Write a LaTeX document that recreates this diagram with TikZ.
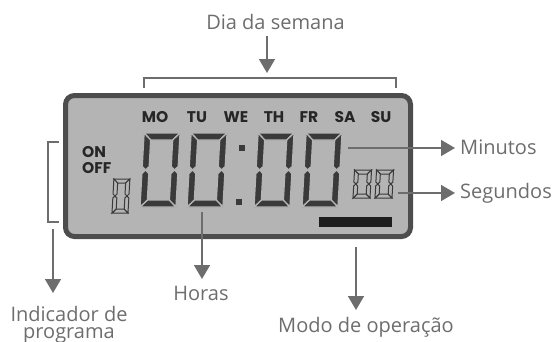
\documentclass[tikz,border=0pt]{standalone}
\usepackage{fontspec}
\usepackage{tikz}
\usetikzlibrary{arrows.meta}
\newfontfamily\rotulofont{Open Sans}
\newfontfamily\visorfont{Poppins}
\definecolor{visor}{HTML}{B4B4B4}
\definecolor{moldura}{HTML}{4D4D4D}
\definecolor{segmento}{HTML}{3A3A3A}
\definecolor{rotulo}{HTML}{6D6D6D}
\definecolor{barra}{HTML}{1E1E1E}
\definecolor{letra}{HTML}{262626}
% um zero de sete segmentos: origem (canto inferior esquerdo), largura, altura, espessura, estilo
\newcommand{\lcdzero}[5]{%
  \begin{scope}[shift={#1},x=1pt,y=1pt,xslant=0.055]
    \path[#5] (0,#3) -- (#2,#3) -- ({#2-#4},{#3-#4}) -- (#4,{#3-#4}) -- cycle;
    \path[#5] (0,0) -- (#2,0) -- ({#2-#4},#4) -- (#4,#4) -- cycle;
    \path[#5] (0,#3) -- (#4,{#3-#4}) -- (#4,{#3/2+#4/2}) -- ({#4/2},{#3/2}) -- (0,{#3/2+#4/2}) -- cycle;
    \path[#5] (0,0) -- (#4,#4) -- (#4,{#3/2-#4/2}) -- ({#4/2},{#3/2}) -- (0,{#3/2-#4/2}) -- cycle;
    \path[#5] (#2,#3) -- ({#2-#4},{#3-#4}) -- ({#2-#4},{#3/2+#4/2}) -- ({#2-#4/2},{#3/2}) -- (#2,{#3/2+#4/2}) -- cycle;
    \path[#5] (#2,0) -- ({#2-#4},#4) -- ({#2-#4},{#3/2-#4/2}) -- ({#2-#4/2},{#3/2}) -- (#2,{#3/2-#4/2}) -- cycle;
  \end{scope}}

\begin{document}
\begin{tikzpicture}[x=1pt, y=-1pt,
    seta/.style={draw=rotulo, line width=1.6pt, -{Triangle[length=14pt,width=16pt]}},
    chave/.style={draw=rotulo, line width=1.6pt},
    rot/.style={text=rotulo, font=\rotulofont\fontsize{20}{20}\selectfont, inner sep=0pt},
    dia/.style={text=letra, font=\visorfont\bfseries\fontsize{15.5}{15.5}\selectfont, inner sep=0pt, anchor=base},
    bigseg/.style={fill=segmento, draw=visor, line width=1.3pt},
    smallseg/.style={fill=visor, draw=segmento, line width=1pt}]
\useasboundingbox (0,0) rectangle (558,341);
% visor
\draw[draw=moldura, fill=visor, line width=5pt, rounded corners=9pt] (65.5,95.5) rectangle (410.5,236.5);
\foreach \d/\x in {MO/155, TU/197, WE/236, TH/274, FR/309, SA/345, SU/381}
  \node[dia] (\d) at (\x,122) {\d};
\node[dia, anchor=base west] (on) at (82,157) {ON};
\node[dia, anchor=base west] (off) at (82,173) {OFF};
% digitos
\foreach \x in {140,187,254,302}
  \lcdzero{(\x,207)}{36}{74}{7}{bigseg};
\fill[segmento] (239,145) rectangle (245,151);
\fill[segmento] (236,199) rectangle (242,205);
\foreach \x in {353,375}
  \lcdzero{(\x,198)}{17}{28}{4}{smallseg};
\lcdzero{(112,213)}{16}{34}{4}{smallseg};
\fill[barra] (319,217) rectangle (392,227);
% rotulos
\node[rot, anchor=base] (semana) at (275.5,29) {Dia da semana};
\node[rot, anchor=base west] (minutos) at (460,154) {Minutos};
\node[rot, anchor=base west] (segundos) at (460,198) {Segundos};
\node[rot, anchor=base] (horas) at (201,300) {Horas};
\node[rot, anchor=base] (indicador) at (69,321) {Indicador de};
\node[rot, anchor=base] (programa) at (69,338) {programa};
\node[rot, anchor=base] (modo) at (366,332) {Modo de operação};
% setas
\coordinate (semanaA) at (267,36);
\coordinate (semanaB) at (267,73);
\coordinate (minA) at (348,148);
\coordinate (minB) at (455,148);
\coordinate (segA) at (398,193);
\coordinate (segB) at (455,193);
\coordinate (horasA) at (202,212);
\coordinate (horasB) at (202,279);
\coordinate (indA) at (53,229);
\coordinate (indB) at (53,293);
\coordinate (modoA) at (356,247);
\coordinate (modoB) at (356,310);
\draw[seta] (semanaA) -- (semanaB);
\draw[seta] (minA) -- (minB);
\draw[seta] (segA) -- (segB);
\draw[seta] (horasA) -- (horasB);
\draw[seta] (indA) -- (indB);
\draw[seta] (modoA) -- (modoB);
\draw[chave] (144,88) -- (144,78) -- (396,78) -- (396,88);
\draw[chave] (59,142) -- (48,142) -- (48,222) -- (59,222);
\end{tikzpicture}
\end{document}
